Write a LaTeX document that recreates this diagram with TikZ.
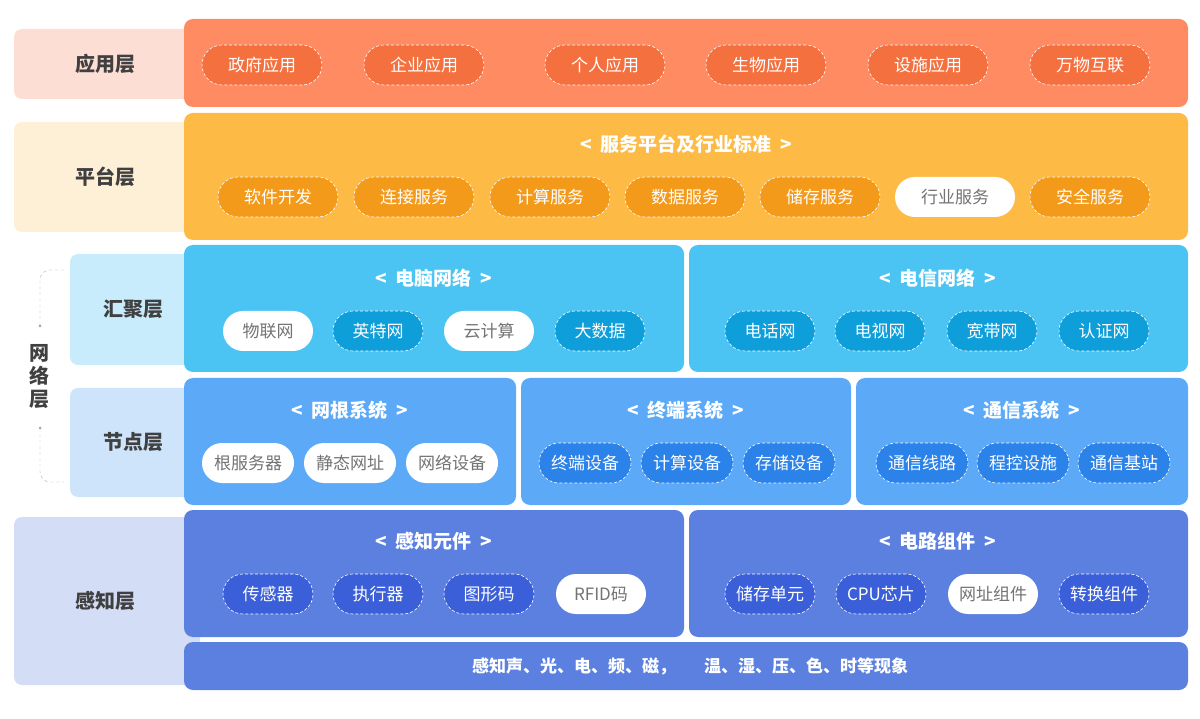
\documentclass[tikz,border=0pt]{standalone}
\usepackage{fontspec}
\setmainfont{Noto Sans CJK SC}
\newfontfamily\cjkb{Noto Sans CJK SC Bold}
\begin{document}
\begin{tikzpicture}[x=1pt,y=-1pt,
 lbl/.style={rounded corners=8pt,inner sep=0pt,font=\fontsize{20}{20}\selectfont\bfseries,text=black!75},
 panel/.style={rounded corners=9pt,draw=none},
 ttl/.style={text=white,font=\fontsize{19}{19}\selectfont\bfseries},
 pill/.style={rounded corners=20pt,minimum height=40pt,minimum width=#1,draw=white,densely dashed,line width=0.6pt,text=white,font=\fontsize{17}{17}\selectfont,inner sep=0pt},
 wpill/.style={rounded corners=20pt,minimum height=40pt,minimum width=#1,fill=white,text=black!55,font=\fontsize{17}{17}\selectfont,inner sep=0pt}]
\definecolor{appL}{HTML}{FDDED4}\definecolor{app}{HTML}{FF8B63}\definecolor{appP}{HTML}{F5703F}
\definecolor{plL}{HTML}{FEF0D6}\definecolor{pl}{HTML}{FDBB46}\definecolor{plP}{HTML}{F49A1B}
\definecolor{hjL}{HTML}{C8ECFB}\definecolor{hj}{HTML}{4BC4F3}\definecolor{hjP}{HTML}{0E9FDB}
\definecolor{jdL}{HTML}{CDE4FB}\definecolor{jd}{HTML}{5BA9F7}\definecolor{jdP}{HTML}{2B82E8}
\definecolor{gzL}{HTML}{D4DDF6}\definecolor{gz}{HTML}{5C80E0}\definecolor{gzP}{HTML}{3A5FD8}
\useasboundingbox (0,0) rectangle (1200,719);
% left labels
\fill[appL,rounded corners=8pt] (14,29) rectangle (200,99);
\node[lbl] (l1) at (105,64) {应用层};
\fill[plL,rounded corners=8pt] (14,122) rectangle (200,232);
\node[lbl] (l2) at (105,177) {平台层};
\fill[hjL,rounded corners=8pt] (70,254) rectangle (200,365);
\node[lbl] (l3) at (133,309) {汇聚层};
\fill[jdL,rounded corners=8pt] (70,388) rectangle (200,497);
\node[lbl] (l4) at (133,442) {节点层};
\fill[gzL,rounded corners=8pt] (14,517) rectangle (200,685);
\node[lbl] (l5) at (105,601) {感知层};
\node[lbl,align=center,font=\fontsize{20}{23}\selectfont\bfseries] (nw) at (39,377) {网\\络\\层};
\draw[gray!70,dashed,rounded corners=10pt] (64,270) -- (40,270) -- (40,326);
\fill[gray!70] (40,326) circle (1.5);
\draw[gray!70,dashed,rounded corners=10pt] (40,428) -- (40,482) -- (64,482);
\fill[gray!70] (40,428) circle (1.5);
% application
\fill[app,panel] (184,19) rectangle (1188,107);
\foreach \x/\t in {262/政府应用,424/企业应用,605/个人应用,766/生物应用,928/设施应用,1090/万物互联}
  \node[pill=120pt,fill=appP] (a\x) at (\x,65) {\t};
% platform
\fill[pl,panel] (184,113) rectangle (1188,240);
\node[ttl] (pt) at (686,144) {<\ \ 服务平台及行业标准\ \ >};
\foreach \x/\t in {278/软件开发,414/连接服务,550/计算服务,685/数据服务,820/储存服务,1090/安全服务}
  \node[pill=120pt,fill=plP] (p\x) at (\x,197) {\t};
\node[wpill=120pt] (p955) at (955,197) {行业服务};
% convergence
\fill[hj,panel] (184,245) rectangle (684,372);
\fill[hj,panel] (689,245) rectangle (1188,372);
\node[ttl] (t1) at (434,278) {<\ \ 电脑网络\ \ >};
\node[ttl] (t2) at (938,278) {<\ \ 电信网络\ \ >};
\node[wpill=90pt] (c1) at (268,331) {物联网};
\node[pill=90pt,fill=hjP] (c2) at (378,331) {英特网};
\node[wpill=90pt] (c3) at (489,331) {云计算};
\node[pill=90pt,fill=hjP] (c4) at (600,331) {大数据};
\foreach \x/\t in {770/电话网,880/电视网,992/宽带网,1104/认证网}
  \node[pill=90pt,fill=hjP] (d\x) at (\x,331) {\t};
% node layer
\fill[jd,panel] (184,378) rectangle (516,505);
\fill[jd,panel] (521,378) rectangle (851,505);
\fill[jd,panel] (856,378) rectangle (1188,505);
\node[ttl] (t3) at (350,410) {<\ \ 网根系统\ \ >};
\node[ttl] (t4) at (686,410) {<\ \ 终端系统\ \ >};
\node[ttl] (t5) at (1022,410) {<\ \ 通信系统\ \ >};
\foreach \x/\t in {248/根服务器,350/静态网址,452/网络设备}
  \node[wpill=92pt] (n\x) at (\x,463) {\t};
\foreach \x/\t in {585/终端设备,687/计算设备,789/存储设备,922/通信线路,1023/程控设施,1124/通信基站}
  \node[pill=92pt,fill=jdP] (n\x) at (\x,463) {\t};
% perception
\fill[gz,panel] (184,510) rectangle (684,637);
\fill[gz,panel] (689,510) rectangle (1188,637);
\node[ttl] (t6) at (434,541) {<\ \ 感知元件\ \ >};
\node[ttl] (t7) at (938,541) {<\ \ 电路组件\ \ >};
\foreach \x/\t in {268/传感器,378/执行器,489/图形码,770/储存单元,881/CPU芯片,1104/转换组件}
  \node[pill=90pt,fill=gzP] (g\x) at (\x,594) {\t};
\node[wpill=90pt] (g601) at (601,594) {RFID码};
\node[wpill=90pt] (g993) at (993,594) {网址组件};
\fill[gz,panel] (184,642) rectangle (1188,690);
\node[text=white,font=\fontsize{17}{17}\selectfont\bfseries] (bt) at (690,666) {感知声、光、电、频、磁，\hspace{28pt}温、湿、压、色、时等现象};
\end{tikzpicture}
\end{document}
